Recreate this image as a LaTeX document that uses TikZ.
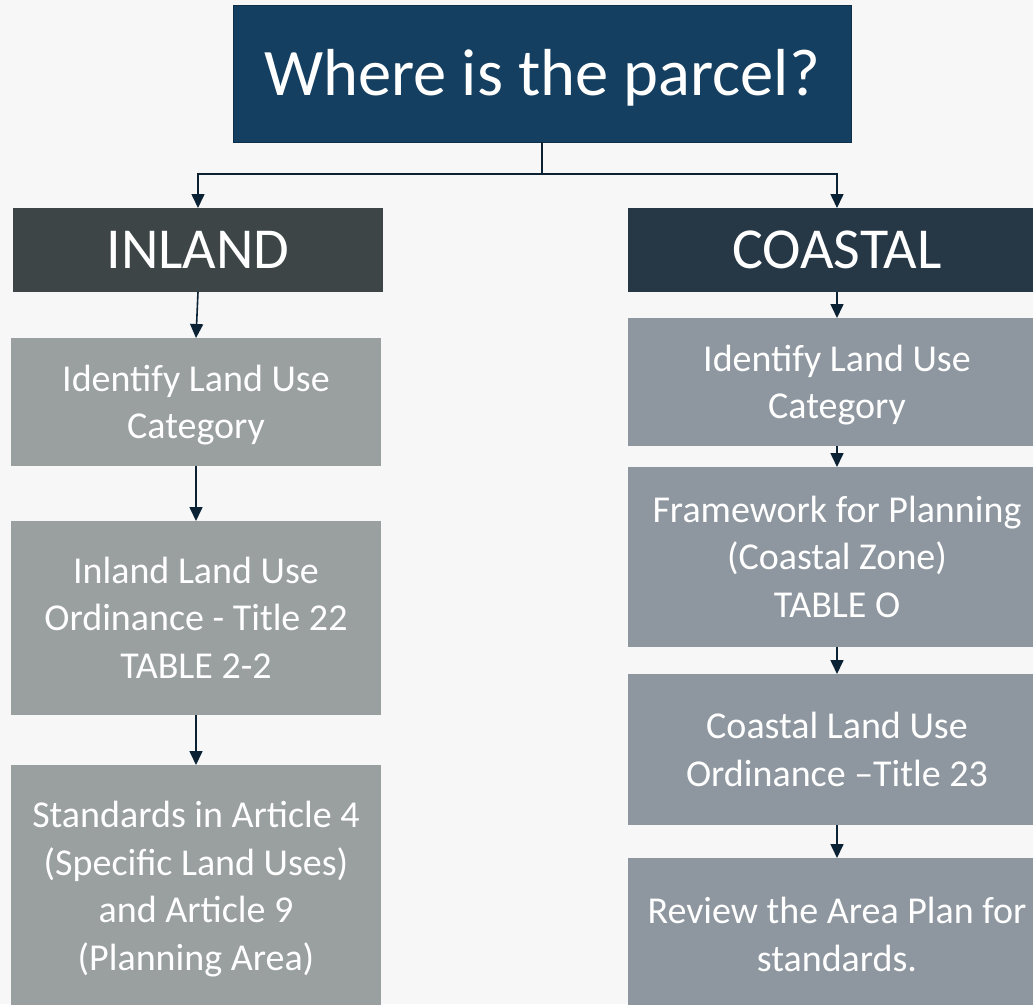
\documentclass[tikz,border=0pt]{standalone}
\usepackage{fontspec}
\setmainfont{Carlito}
\usetikzlibrary{arrows.meta,calc}
\definecolor{bg}{HTML}{F7F7F7}
\definecolor{topc}{HTML}{153F60}
\definecolor{topb}{HTML}{0E2F4A}
\definecolor{inlandc}{HTML}{3D4547}
\definecolor{coastc}{HTML}{263746}
\definecolor{lgray}{HTML}{9A9FA0}
\definecolor{rgray}{HTML}{8E979F}
\definecolor{arrc}{HTML}{0B2234}
\newcommand{\bs}{\rule[-10.5pt]{0pt}{46.5pt}}
\newcommand{\titlestrut}{\rule[-17pt]{0pt}{77pt}}
\tikzset{
  x=1pt,y=1pt,
  box/.style={rectangle, inner sep=0pt, outer sep=0pt, align=center, text=white,
    font=\fontsize{38}{47.5}\selectfont},
  lbox/.style={box, fill=lgray, minimum width=370pt},
  rbox/.style={box, fill=rgray, minimum width=418pt},
  headbox/.style={box, minimum height=84pt, font=\fontsize{58}{66}\selectfont},
  arr/.style={draw=arrc, line width=1.6pt, -{Triangle[width=13pt,length=14pt]}},
}
\begin{document}
\begin{tikzpicture}
\fill[bg] (0,0) rectangle (1033,-1004);
\useasboundingbox (0,0) rectangle (1033,-1004);
\clip (0,0) rectangle (1033,-1004);

\node[box, fill=topc, draw=topb, line width=1pt, minimum width=618pt, minimum height=137pt,
  font=\fontsize{66.5}{80}\selectfont] (top) at (542,-73.5) {\titlestrut Where is the parcel?};

\node[headbox, fill=inlandc, minimum width=370pt] (inland) at (198,-250) {INLAND};
\node[headbox, fill=coastc, minimum width=418pt] (coastal) at (837,-250) {COASTAL};

\node[lbox, minimum height=128pt] (l1) at (196,-402) {\bs Identify Land Use\\Category\bs};
\node[lbox, minimum height=194pt] (l2) at (196,-618) {\bs Inland Land Use\\Ordinance - Title 22\\TABLE 2-2\bs};
\node[lbox, minimum height=242pt] (l3) at (196,-886) {\bs Standards in Article 4\\(Specific Land Uses)\\and Article 9\\(Planning Area)\bs};

\node[rbox, minimum height=128pt] (r1) at (837,-382) {\bs Identify Land Use\\Category\bs};
\node[rbox, minimum height=180pt] (r2) at (837,-557) {\bs Framework for Planning\\(Coastal Zone)\\TABLE O\bs};
\node[rbox, minimum height=151pt] (r3) at (837,-749.5) {\bs Coastal Land Use\\Ordinance –Title 23\bs};
\node[rbox, minimum height=153pt] (r4) at (837,-934.5) {\bs Review the Area Plan for\\standards.\bs};

\coordinate (junc) at ($(top.south)+(0,-32)$);
\draw[arr] (top.south) -- (junc) -| (inland.north);
\draw[arr] (junc) -| (coastal.north);

\draw[arr] (inland.south) -- (l1.north);
\draw[arr] (l1.south) -- (l2.north);
\draw[arr] (l2.south) -- (l3.north);

\draw[arr] (coastal.south) -- (r1.north);
\draw[arr] (r1.south) -- (r2.north);
\draw[arr] (r2.south) -- (r3.north);
\draw[arr] (r3.south) -- (r4.north);
\end{tikzpicture}
\end{document}
